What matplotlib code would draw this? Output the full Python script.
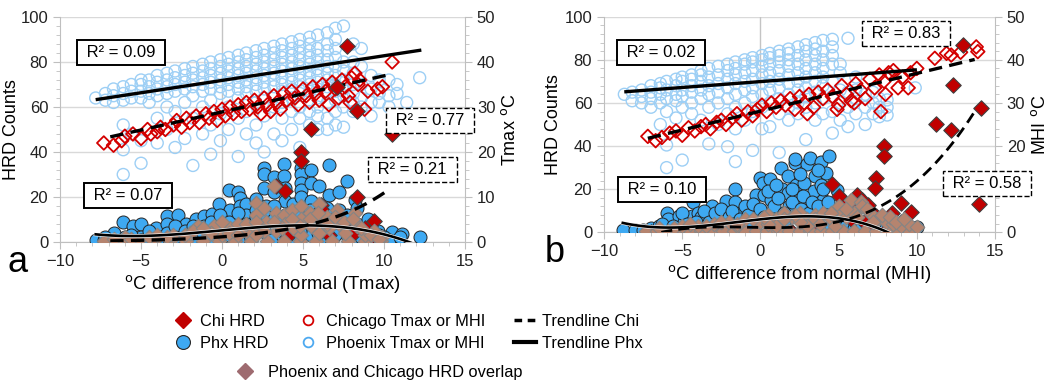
import numpy as np
import matplotlib.pyplot as plt
import matplotlib.patheffects as pe
from matplotlib.lines import Line2D
from matplotlib.ticker import MultipleLocator

plt.rcParams['font.family'] = ['Liberation Sans', 'DejaVu Sans']

# ---------------------------------------------------------------
# Panel a : Tmax difference from normal
# ---------------------------------------------------------------
# Phoenix Tmax (deg C) - columns of points at each anomaly value
a_phx_t_colx = [-7.8, -7.2, -6.7, -6.1, -5.6, -5.0, -4.5, -4.0, -3.4, -2.9, -2.3, -1.8,
                -1.2, -0.7, -0.1, 0.4, 1.0, 1.5, 2.1, 2.6, 3.2, 3.7, 4.3, 4.8, 5.4, 5.9,
                6.5, 7.0, 7.5, 8.1, 8.6, 9.2, 9.7, 10.3, 10.8, 11.4, 12.2]
a_phx_t_cols = [
    [32], [31.5, 33], [31, 32.5, 34], [15, 20.5, 26, 31.5, 33, 34.5],
    [24, 32, 33.5, 35], [17.5, 22.5, 32, 33.5, 35, 36], [31, 33, 34.5, 36],
    [22, 27.5, 32.5, 34, 35.5, 37], [25, 30, 33, 34.5, 36, 37.5],
    [21, 29, 33.5, 35, 36.5, 38], [23, 31, 34, 35.5, 37, 38.5],
    [17, 27.5, 32.5, 34.5, 36, 37.5, 39], [24, 30, 33.5, 35, 36.5, 38, 39.5],
    [19.5, 26, 31.5, 34, 35.5, 37, 38.5, 40], [22.5, 28.5, 33, 34.5, 36, 37.5, 39, 40.5],
    [25, 30, 33.5, 35, 36.5, 38, 39.5, 41], [19, 27.5, 32, 34, 35.5, 37, 38.5, 40, 41.5],
    [24, 29, 33, 34.5, 36, 37.5, 39, 40.5, 42], [22, 26, 31, 33.5, 35, 36.5, 38, 39.5, 41, 42.5],
    [20, 28, 32, 34, 35.5, 37, 38.5, 40, 41.5, 43], [24, 30, 32.5, 34.5, 36, 37.5, 39, 40.5, 42, 43.5],
    [22.5, 27.5, 31, 33.5, 35, 36.5, 38, 39.5, 41, 42.5, 44],
    [25, 29, 32, 34, 35.5, 37, 38.5, 40, 41.5, 43, 44.5],
    [21, 27.5, 30, 33, 34.5, 36, 37.5, 39, 40.5, 42, 43.5, 45],
    [26, 29, 31.5, 33.5, 35, 36.5, 38, 39.5, 41, 42.5, 44, 45.5],
    [25, 28, 30, 32, 34, 35.5, 37, 38.5, 40, 41.5, 43, 46],
    [25, 27.5, 31, 33, 34.5, 36, 37.5, 39, 40.5, 42.5, 44, 46.5],
    [26, 29, 31.5, 33.5, 35, 37, 39, 41, 43, 45, 47.5],
    [25.5, 30, 32.5, 34, 36, 38, 40, 48], [29, 31, 33, 35, 37.5, 40, 44],
    [30, 32, 35, 39, 43], [28, 31, 34, 37], [31, 33, 36], [30, 32.5, 36], [33, 35],
    [31], [36.5]]

# Chicago Tmax (deg C)
a_chi_t_x = [-7.3, -6.7, -6.2, -6.0, -5.5, -5.0, -4.6, -4.4, -4.0, -3.8, -3.5, -3.0, -2.8, -2.5,
             -2.2, -2.0, -1.6, -1.4, -1.0, -0.8, -0.5, -0.3, 0.0, 0.2, 0.5, 0.7, 1.0, 1.2, 1.5,
             1.7, 2.0, 2.2, 2.4, 2.6, 2.8, 3.0, 3.2, 3.4, 3.6, 3.8, 4.0, 4.3, 4.5, 4.7, 5.0, 5.2,
             5.4, 5.6, 5.8, 6.0, 6.2, 6.4, 6.6, 6.8, 7.0, 7.2, 7.4, 7.6, 7.8, 8.0, 8.2, 8.4, 8.8,
             9.0, 9.6, 9.9, 10.5, 8.5, 7.9]
a_chi_t_y = [22, 21.5, 22.5, 23.5, 24, 23, 25, 24, 24.5, 25.5, 25, 26, 27, 25.5,
             27.5, 26.5, 28, 26.5, 28.5, 27.5, 29, 27, 29.5, 28, 30, 28.5, 30.5, 29, 31,
             29.5, 31.5, 30, 28.5, 32, 30.5, 29, 32.5, 31, 29.5, 33, 31.5, 33.5, 32, 30.5, 34, 32.5,
             31, 34.5, 33, 31.5, 35, 33.5, 30.5, 35.5, 34, 32, 36, 34.5, 32.5, 36.5, 37.5, 35, 29.5,
             33.5, 34, 34.5, 40, 36, 31]

# Phoenix HRD counts
a_phx_h_x = [-7.8, -7.3, -6.7, -6.1, -6.0, -5.5, -5.0, -5.0, -4.5, -4.1, -3.9, -3.4, -3.4, -3.0,
             -2.7, -2.7, -2.2, -2.2, -1.6, -1.6, -1.1, -1.1, -0.6, -0.6, -0.2, -0.2, 0.0, 0.45,
             0.5, 0.5, 1.0, 1.0, 1.1, 1.1, 1.5, 1.5, 1.5, 2.1, 2.1, 2.1, 2.6, 2.6, 2.6, 2.7, 2.7,
             2.7, 3.2, 3.2, 3.2, 3.2, 3.8, 3.85, 3.9, 3.9, 3.9, 4.0, 4.4, 4.4, 4.4, 4.9, 4.9, 4.9,
             4.9, 4.9, 4.9, 5.0, 5.5, 5.5, 5.5, 5.5, 5.5, 6.0, 6.0, 6.0, 6.6, 6.6, 6.6, 6.6, 7.2,
             7.2, 7.2, 7.7, 7.7, 7.7, 8.2, 8.3, 8.3, 8.3, 9.0, 9.0, 9.6, 9.6, 10.5, 11.1, 12.2,
             10.0, 6.0, 3.0, 1.0, -1.0, -3.0, -5.0,
             -7.2, -6.7, -5.6, -4.5, -4.0, -3.4, -2.9, -2.9, -2.3, -1.8, -1.8, -1.2, -0.7, -0.7,
             -0.1, -0.1, 0.4, 0.4, 1.0, 1.0, 1.5, 2.1, 2.1, 2.6, 2.6, 3.2, 3.2, 3.7, 3.7, 4.3,
             4.3, 4.8, 4.8, 5.4, 5.4, 5.9, 5.9, 6.5, 6.5, 7.0, 7.0, 7.5, 8.1, 8.6, 9.2, 9.7,
             10.3, 11.0]
a_phx_h_y = [1, 1, 4, 9, 2, 7, 8, 2, 3, 6, 2, 11.5, 8, 4,
             12, 6, 8, 3, 10, 5, 11.5, 7, 12.5, 4, 17, 9, 2, 23,
             14, 6, 22, 10, 19.5, 16, 17, 12, 3, 19, 14, 8, 33, 30, 24, 16, 10,
             4, 29, 22, 13, 7, 34.5, 29.5, 24, 18, 12, 5, 17, 10, 2, 33, 30, 26,
             23, 20, 14, 8, 32, 26, 18, 11, 3, 25, 15, 7, 34, 21, 12, 2, 22,
             14, 6, 27, 12, 3, 18.5, 15, 8, 1, 4, 10, 5, 1, 4.4, 3.7, 2.2,
             2, 1, 1, 1, 1, 1, 1,
             2, 1, 3, 5, 1, 4, 7, 2, 5, 7, 2, 4, 9, 2,
             6, 12, 9, 3, 13, 6, 8, 11, 5, 13, 7, 10, 16, 9, 3, 13,
             6, 11, 5, 14, 8, 11, 4, 9, 15, 10, 3, 8, 5, 2, 7, 3,
             1, 2]

# Chicago HRD counts
a_chi_h_x = [7.7, 7.1, 8.3, 5.5, 10.5, 4.9, 4.9, 3.3, 3.9, 6.1, 6.1, 8.3, 9.4, 7.6, 8.8,
             -6.7, -5.6, 6.6, 9.0, 4.0, 8.0]
a_chi_h_y = [87, 69, 58, 50, 48, 40, 36, 25, 22.5, 16.5, 14.5, 20, 9.3, 6, 6,
             0.5, 0.7, 3, 1, 2, 3]

# Days where both cities had HRD
a_both_x = [-7.3, -6.2, -5.2, -4.2, -3.2, -2.2, -1.2, -0.2, 0.8, 1.8, 2.8, 3.8, 4.8, 5.8, 6.8,
            7.8, 8.8, 9.8, -6.0, -4.5, -3.0, -2.0, -1.0, -0.5, 0.0, 0.5, 1.0, 1.5, 2.1, 2.1,
            2.0, 2.6, 2.7, 3.2, 3.3, 3.3, 3.8, 3.9, 4.3, 4.4, 4.9, 4.9, 4.9, 5.4, 5.5, 6.0,
            6.1, 6.0, 6.5, 6.6, 7.1, 7.2, 7.6, 8.2, 8.3, 8.8, 9.4, 9.9, -1.5,
            -6.7, -5.6, -4.0, -3.4, -2.3, -1.8, -0.7, 0.4, 1.0, 1.5, 2.6, 3.2, 3.7, 4.3,
            4.8, 5.4, 5.9, 6.5, 7.0, 7.5, 8.1, 8.6, 9.2, 9.7, 0.0, -1.2, 2.1, 2.1]
a_both_y = [0.5, 0.5, 0.5, 0.5, 0.5, 0.5, 0.5, 0.5, 0.5, 0.5, 0.5, 0.5, 0.5, 0.5, 0.5,
            0.5, 0.5, 0.5, 2, 2, 3, 4, 5, 7, 3, 6, 8, 5, 17.5, 12,
            7, 15, 9, 25, 13, 5, 12, 8, 14, 6, 16, 10, 3, 13, 7, 17,
            10, 4, 11, 6, 14, 8, 4, 13, 7, 3, 5, 2, 7,
            1.5, 1.5, 3, 2, 3, 5, 4, 4, 3, 8, 5, 9, 6, 10,
            7, 10, 13, 8, 11, 9, 10, 6, 3, 1.5, 9, 6, 9, 3]

# trendlines
a_phx_t_fit = [0.548, 35.9]          # linear, deg C
a_phx_t_span = [-7.7, 12.2]
a_chi_t_fit = [0.803, 28.9]
a_chi_t_span = [-6.9, 10.4]
a_phx_h_anchor_x = [-7.8, -4.0, 0.0, 5.0, 7.0, 10.0, 12.2]   # polynomial trend
a_phx_h_anchor_y = [3.2, 3.5, 4.7, 7.2, 6.9, 3.9, -2.2]
a_chi_h_exp = [2.3, 0.225]            # exponential trend
a_chi_h_span = [-6.9, 10.3]

# R² labels: text, x, y (HRD axis units), dashed?
a_r2_text = ['R² = 0.09', 'R² = 0.77', 'R² = 0.21', 'R² = 0.07']
a_r2_x = [-6.23, 12.84, 11.76, -5.83]
a_r2_y = [84.2, 53.8, 32.2, 20.7]
a_r2_dash = [False, True, True, False]

# ---------------------------------------------------------------
# Panel b : MHI difference from normal
# ---------------------------------------------------------------
b_phx_t_colx = [-8.7, -8.2, -7.6, -7.0, -6.4, -6.0, -5.4, -5.0, -4.4, -3.8, -3.3, -2.7, -2.1,
                -1.6, -1.0, -0.5, 0.1, 0.6, 1.2, 1.8, 2.4, 2.9, 3.5, 4.0, 4.6, 5.1, 5.6, 6.1,
                6.7, 7.2, 7.6, 8.1, 9.9]
b_phx_t_cols = [
    [32], [30.5, 32.5], [30, 31.5, 33], [29, 31, 32.5, 34], [25, 30, 32, 33.5, 34.5],
    [15, 20.25, 28, 31, 33, 35], [26.5, 30.5, 32, 34, 35.5], [16.75, 29, 31.5, 33, 35, 36],
    [27.5, 30, 32.5, 34, 35.5, 36.5], [26, 31, 33, 35, 36.5, 37.5], [20.5, 29, 32, 34, 36, 38],
    [25, 30, 32.5, 34.5, 36.5, 38.5], [19.85, 27.5, 31, 33.5, 35.5, 37.5, 39],
    [16.4, 24, 29, 32, 34.5, 36.5, 38, 39.5], [26, 30, 33, 35, 37, 39, 40],
    [19, 28, 31.5, 33.5, 35.5, 37.5, 39.5, 40.5], [24, 29, 32, 34.5, 36.5, 38.5, 40, 41],
    [24.5, 30, 33, 35, 37, 39, 40.5, 41.5], [18.5, 27.5, 31, 33.5, 35.5, 37.5, 39.5, 41, 42],
    [26, 29, 32, 34.5, 36.5, 38.5, 40, 41.5, 42.5], [27.5, 30, 33, 35, 37, 39, 41, 43],
    [21.5, 29, 31.5, 33.5, 36, 38, 40, 42, 43.5], [26, 30, 32.5, 35, 37, 39, 41, 42.5, 44],
    [27.5, 31, 34, 36, 38, 40, 42, 44.5], [23, 28, 31.5, 35, 39, 41, 43, 44.75],
    [26, 30, 33, 37, 39], [24.5, 29, 32.5, 45], [27.5, 31, 33, 36], [25, 29, 32],
    [27.5, 30, 32.5], [26.8, 29, 31], [27.2, 29, 30.7], [33.5]]

b_chi_t_x = [-7.2, -6.7, -6.3, -5.8, -5.4, -5.0, -4.6, -4.2, -3.8, -3.5, -3.2, -2.8, -2.5, -2.2,
             -1.8, -1.5, -1.2, -0.8, -0.5, -0.2, 0.1, 0.4, 0.7, 1.0, 1.3, 1.6, 1.9, 2.2, 2.5,
             2.8, 3.1, 3.4, 3.7, 4.0, 4.3, 4.6, 4.9, 5.2, 5.5, 5.8, 6.1, 6.4, 6.7, 7.0, 7.3,
             7.6, 7.9, 7.7, 8.2, 8.5, 8.8, 9.1, 9.45, 9.6, 10.0, 11.15, 11.9, 12.2, 12.8, 13.8,
             13.9, 5.0, 3.0, 6.0, 8.0]
b_chi_t_y = [22.25, 21.25, 22, 23, 23.5, 22.5, 24.25, 23.5, 24.5, 25, 24, 25.5, 26, 25,
             26.5, 27.5, 26, 28, 27, 28.5, 29.5, 28, 30, 29, 30.5, 29.5, 31, 28.5, 31.5,
             30, 32, 29, 32.5, 31, 33, 31.5, 28.5, 34, 32, 30.5, 34.5, 33, 31, 35.5, 33.5,
             36.5, 35, 28, 37, 37.5, 33.5, 36, 33.5, 37, 38, 40.35, 41.5, 41.1, 41.75, 43,
             41.9, 29.5, 27.5, 30, 32]

b_phx_h_x = [-8.8, -8.0, -7.5, -7.0, -6.5, -6.0, -5.9, -5.5, -5.2, -4.9, -4.4, -4.3, -4.0, -3.8,
             -3.5, -3.1, -3.1, -2.7, -2.2, -2.2, -1.6, -1.65, -1.5, -1.2, -1.0, -0.6, -0.3,
             -0.2, 0.0, 0.15, 0.25, 0.3, 0.6, 0.7, 0.8, 1.0, 1.3, 1.4, 1.75, 1.75, 1.8, 2.2,
             2.2, 2.3, 2.4, 2.5, 2.8, 3.0, 3.0, 3.2, 3.4, 3.5, 3.6, 3.9, 3.9, 4.0, 4.2, 4.4,
             4.5, 4.9, 5.0, 5.5, 6.0, 6.5, 7.0, 8.0, 10.0, -2.0, 1.5, 3.0, 4.5,
             -6.3, -5.6, -5.0, -4.7, -4.1, -3.6, -3.3, -2.9, -2.5, -2.0, -1.8, -1.3, -0.8, -0.5,
             0.0, 0.2, 0.5, 0.9, 1.1, 1.5, 2.0, 2.0, 2.6, 2.7, 3.1, 3.3, 3.7, 4.0, 4.3, 4.6,
             1.0, 3.7, 2.5]
b_phx_h_y = [1, 1, 1, 2, 3, 9, 6, 2, 7.5, 5, 7.5, 14, 9, 7,
             3, 7.5, 12, 5, 14.5, 9, 20, 14, 6, 9.5, 12, 4, 17.5,
             10, 25, 23, 17.5, 7, 24.5, 15, 10, 3, 30, 20, 26, 18, 12, 32,
             34, 22, 15, 8, 23, 31.5, 12, 34.5, 19, 26, 9, 32.5, 22, 15, 27.5, 35.5,
             10, 19.7, 5, 3, 2, 4, 1, 2, 2.4, 3, 4, 2, 2,
             4, 3, 9, 4, 5, 10, 5, 9, 11, 7, 10, 6, 8, 13,
             11, 7, 19, 12, 16, 9, 14, 20, 11, 17, 9, 14, 12, 20, 14, 8,
             22, 29, 27]

b_chi_h_x = [12.95, 12.3, 11.25, 12.2, 14.1, 14.0, 7.9, 7.9, 4.6, 7.4, 7.3, 6.2, 6.5, 9.0, 9.65,
             8.4, 9.0, 6.9, 7.4, 5.4, 5.0, 6.6, 9.3, 8.5, 5.8, 6.0, 8.0, 9.5, -7.0, -5.5, -4.0,
             -2.5, -1.0, 0.5, 2.0, 3.5, 5.0, 7.0]
b_chi_h_y = [87, 68.5, 50, 47.5, 57.5, 13, 40, 35.5, 22.5, 25, 20.5, 17.5, 15, 13.5, 9.5,
             9, 5, 12.5, 7.5, 13.5, 17, 5, 2, 3, 6, 10, 1, 1, 0.3, 0.3, 0.3,
             0.3, 0.3, 0.3, 0.3, 0.3, 0.3, 0.3]

b_both_x = [-7.3, -6.6, -5.9, -5.2, -4.5, -3.8, -3.1, -2.4, -1.7, -1.0, -0.3, 0.4, 1.1, 1.8, 2.5,
            3.2, 3.9, 4.6, 5.3, 6.0, 6.7, 7.4, 8.1, 8.8, 9.5, -6.5, -5.0, -4.0, -3.0, -2.0,
            -1.0, 0.0, 0.5, 1.0, 1.5, 2.0, 2.5, 3.0, 3.5, 4.0, 4.5, 5.0, 5.2, 5.5, 5.8, 6.0,
            6.4, 6.5, 7.0, 7.5, 8.0, 8.5, 9.0, 9.5, 10.0, 4.8, 3.0, 1.0, -1.5,
            -5.5, -4.5, -3.5, -2.5, -1.5, -0.5, 0.5, 1.5, 2.5, 3.5, 4.5, 5.5, 6.2, 6.8, 7.2,
            7.8, 8.3, 8.7, 9.2, 0.2, 2.2, 3.8]
b_both_y = [0.5, 0.5, 0.5, 0.5, 0.5, 0.5, 0.5, 0.5, 0.5, 0.5, 0.5, 0.5, 0.5, 0.5, 0.5,
            0.5, 0.5, 0.5, 0.5, 0.5, 0.5, 0.5, 0.5, 0.5, 0.5, 2, 3, 3, 4, 5,
            6, 5, 8, 6, 9, 7, 9, 6, 8, 9, 6, 12, 9, 7, 15, 9,
            14, 12, 9, 6, 5, 4, 3, 4, 2.5, 3, 3, 3, 3,
            2, 4, 3, 5, 4, 6, 4, 6, 5, 6, 9, 11, 7, 11, 5,
            8, 7, 5, 6, 7, 8, 4]

b_phx_t_fit = [0.273, 34.95]
b_phx_t_span = [-8.6, 9.9]
b_chi_t_fit = [0.875, 28.1]
b_chi_t_span = [-7.2, 13.7]
b_phx_h_anchor_x = [-8.8, -5.0, 0.0, 2.5, 5.0, 6.5, 7.75, 9.3]
b_phx_h_anchor_y = [4.3, 2.5, 5.8, 7.3, 6.7, 4.3, 1.2, -4.4]
b_chi_h_anchor_x = [-7.4, 0.0, 5.0, 7.0, 8.0, 10.7, 12.0, 13.8]
b_chi_h_anchor_y = [-2.0, 1.8, 4.8, 10.5, 14.5, 27.4, 37.4, 58.3]

b_r2_text = ['R² = 0.02', 'R² = 0.83', 'R² = 0.10', 'R² = 0.58']
b_r2_x = [-6.36, 9.28, -6.32, 14.49]
b_r2_y = [83.6, 92.2, 19.9, 22.6]
b_r2_dash = [False, True, False, True]

# ---------------------------------------------------------------
C_PHX_T = '#9dcff5'
C_CHI_T = '#d40000'
C_PHX_H = '#3ea9f2'
C_CHI_H = '#c00000'
C_BOTH = '#b5846f'
C_AXIS = '#bfbfbf'


def flatten_cols(xs, cols):
    x = [xv for xv, col in zip(xs, cols) for _ in col]
    y = [v for col in cols for v in col]
    return x, y


def draw_panel(rect, phx_t, chi_t, phx_h, chi_h, both, trends, r2, xlabel, rlabel, ylab_x):
    ax = fig.add_axes(rect)
    tw = ax.twinx()
    ax.set_zorder(tw.get_zorder() + 1)
    ax.patch.set_visible(False)

    # temperature clouds on the right axis
    tw.scatter(*phx_t, marker='o', s=74, facecolors='none', edgecolors=C_PHX_T,
               linewidths=1.0, zorder=2)
    tw.scatter(*chi_t, marker='D', s=48, facecolors='none', edgecolors=C_CHI_T,
               linewidths=1.3, zorder=3)
    (pt_fit, pt_span), (ct_fit, ct_span) = trends[0], trends[1]
    xs = np.linspace(*pt_span, 50)
    tw.plot(xs, np.polyval(pt_fit, xs), color='black', lw=2.4, zorder=4)
    xs = np.linspace(*ct_span, 50)
    tw.plot(xs, np.polyval(ct_fit, xs), color='black', lw=2.4, ls=(0, (4, 2.2)), zorder=4)

    # HRD counts on the left axis
    ax.scatter(*phx_h, marker='o', s=88, facecolors=C_PHX_H, edgecolors='#262626',
               linewidths=0.7, zorder=3)
    ax.scatter(*chi_h, marker='D', s=62, facecolors=C_CHI_H, edgecolors='#404040',
               linewidths=0.8, zorder=4)
    ax.scatter(*both, marker='D', s=55, facecolors=C_BOTH, edgecolors='#858585',
               linewidths=0.8, zorder=5)

    ph_x, ph_y, ph_span = trends[2]
    coef = np.polyfit(ph_x, ph_y, 3)
    xs = np.linspace(*ph_span, 100)
    ax.plot(xs, np.polyval(coef, xs), color='black', lw=1.9, zorder=6,
            path_effects=[pe.Stroke(linewidth=2.8, foreground='white'), pe.Normal()])
    ch = trends[3]
    if ch[0] == 'exp':
        xs = np.linspace(*ch[2], 100)
        ax.plot(xs, ch[1][0] * np.exp(ch[1][1] * xs), color='black', lw=2.4,
                ls=(0, (4, 2.2)), zorder=6)
    else:
        coef = np.polyfit(ch[1], ch[2], 3)
        xs = np.linspace(ch[1][0], ch[1][-1], 100)
        ax.plot(xs, np.polyval(coef, xs), color='black', lw=2.0,
                ls=(0, (4, 2.2)), zorder=6)

    for txt, x, y, dash in zip(*r2):
        ax.text(x, y, ' ' + txt + ' ', ha='center', va='center', fontsize=12, zorder=8,
                clip_on=False,
                bbox=dict(boxstyle='square,pad=0.3', fc='white', ec='black',
                          lw=1.0 if dash else 1.4, ls='--' if dash else '-'))

    ax.set_xlim(-10, 15)
    ax.set_ylim(0, 100)
    tw.set_ylim(0, 50)
    ax.set_xticks([-10, -5, 0, 5, 10, 15])
    ax.set_yticks(range(0, 101, 20))
    tw.set_yticks(range(0, 51, 10))
    ax.xaxis.set_minor_locator(MultipleLocator(1))
    ax.yaxis.set_minor_locator(MultipleLocator(4))
    tw.yaxis.set_minor_locator(MultipleLocator(2))

    tw.grid(axis='y', color='#d9d9d9', lw=1.0, zorder=0)
    tw.set_axisbelow(True)
    tw.axvline(0, color='#c4c4c4', lw=1.0, zorder=1)

    for a in (ax, tw):
        a.spines['top'].set_visible(False)
        a.tick_params(which='major', length=5, color=C_AXIS, labelsize=12,
                      labelcolor='#222222')
        a.tick_params(which='minor', length=3, color=C_AXIS)
    ax.spines['right'].set_visible(False)
    tw.spines['left'].set_visible(False)
    tw.spines['bottom'].set_visible(False)
    ax.spines['left'].set_color(C_AXIS)
    ax.spines['bottom'].set_color(C_AXIS)
    tw.spines['right'].set_color(C_AXIS)

    ax.set_xlabel(xlabel, fontsize=13.3, labelpad=3)
    ax.set_ylabel('HRD Counts', fontsize=13)
    ax.yaxis.set_label_coords(ylab_x, 0.5)
    tw.set_ylabel(rlabel, fontsize=13, labelpad=4)
    return ax


fig = plt.figure(figsize=(10.61, 3.92), dpi=100)

draw_panel([0.0566, 0.3827, 0.3817, 0.574],
           flatten_cols(a_phx_t_colx, a_phx_t_cols), (a_chi_t_x, a_chi_t_y),
           (a_phx_h_x, a_phx_h_y), (a_chi_h_x, a_chi_h_y), (a_both_x, a_both_y),
           [(a_phx_t_fit, a_phx_t_span), (a_chi_t_fit, a_chi_t_span),
            (a_phx_h_anchor_x, a_phx_h_anchor_y, [a_phx_h_anchor_x[0], a_phx_h_anchor_x[-1]]),
            ('exp', a_chi_h_exp, a_chi_h_span)],
           (a_r2_text, a_r2_x, a_r2_y, a_r2_dash),
           '$^{\\rm o}$C difference from normal (Tmax)', 'Tmax $^{\\rm o}$C', -0.099)

draw_panel([0.5693, 0.4074, 0.3685, 0.55],
           flatten_cols(b_phx_t_colx, b_phx_t_cols), (b_chi_t_x, b_chi_t_y),
           (b_phx_h_x, b_phx_h_y), (b_chi_h_x, b_chi_h_y), (b_both_x, b_both_y),
           [(b_phx_t_fit, b_phx_t_span), (b_chi_t_fit, b_chi_t_span),
            (b_phx_h_anchor_x, b_phx_h_anchor_y, [b_phx_h_anchor_x[0], b_phx_h_anchor_x[-1]]),
            ('poly', b_chi_h_anchor_x, b_chi_h_anchor_y)],
           (b_r2_text, b_r2_x, b_r2_y, b_r2_dash),
           '$^{\\rm o}$C difference from normal (MHI)', 'MHI $^{\\rm o}$C', -0.107)

fig.text(18 / 1061, 1 - 262 / 392, 'a', fontsize=26, ha='center', va='center')
fig.text(555 / 1061, 1 - 252 / 392, 'b', fontsize=26, ha='center', va='center')

# legend
handles = [
    Line2D([], [], ls='none', marker='D', ms=8.5, mfc=C_CHI_H, mec=C_CHI_H),
    Line2D([], [], ls='none', marker='o', ms=10, mfc=C_PHX_H, mec='#262626', mew=0.8),
    Line2D([], [], ls='none', marker='o', ms=7, mfc='none', mec=C_CHI_T, mew=1.3),
    Line2D([], [], ls='none', marker='o', ms=7, mfc='none', mec='#4da9f0', mew=1.3),
    Line2D([], [], color='black', lw=2.5, ls=(0, (2.2, 1.6))),
    Line2D([], [], color='black', lw=3.0),
]
labels = ['Chi HRD', 'Phx HRD', 'Chicago Tmax or MHI', 'Phoenix Tmax or MHI',
          'Trendline Chi', 'Trendline Phx']
fig.legend(handles, labels, loc='center', bbox_to_anchor=(0.384, 0.152), ncol=3,
           frameon=False, fontsize=11.8, handlelength=1.3, handletextpad=0.4,
           columnspacing=1.8, labelspacing=0.4)
fig.legend([Line2D([], [], ls='none', marker='D', ms=8.5, mfc='#9e6b70', mec='#9e6b70')],
           ['Phoenix and Chicago HRD overlap'], loc='center',
           bbox_to_anchor=(0.354, 0.051), frameon=False, fontsize=11.8,
           handletextpad=0.4)

fig.savefig('out.png', dpi=100)
